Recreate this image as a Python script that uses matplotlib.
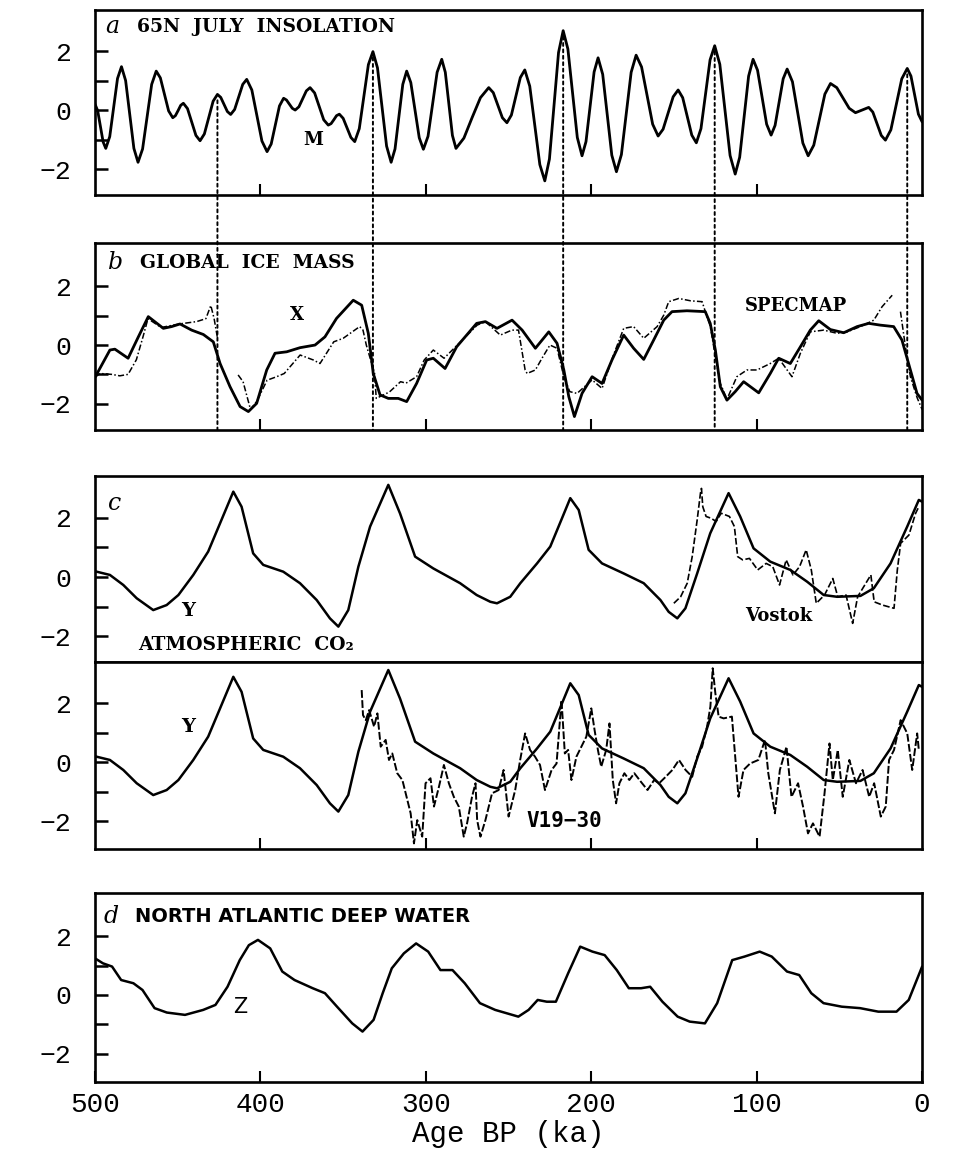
import numpy as np
from matplotlib import pyplot as plt
from matplotlib.patches import ConnectionPatch

# a: 65N July insolation (normalised)
ins_age = [500, 498.4, 496.75, 495.1, 493.5, 491.1, 488.75, 486.4, 484, 481.5, 479, 476.5,
           474, 471.25, 468.5, 465.75, 463, 460.5, 458, 455.5, 453, 451.4, 449.8, 448.2,
           446.6, 444.1, 441.55, 439, 436.5, 433.9, 431.25, 428.6, 426, 424, 422, 420,
           418, 415.6, 413.15, 410.7, 408.3, 405.2, 402.15, 399.1, 396, 393.5, 391, 388.5,
           386, 384.25, 382.5, 380.75, 379, 376.75, 374.5, 372.25, 370, 367.25, 364.5, 361.75,
           359, 357.3, 355.65, 354, 352.3, 350, 347.65, 345.3, 343, 340.25, 337.5, 334.75,
           332, 329.25, 326.5, 323.75, 321, 318.65, 316.3, 313.95, 311.6, 309.1, 306.55, 304,
           301.5, 298.7, 295.95, 293.2, 290.4, 288.25, 286.1, 283.95, 281.8, 277, 272, 267,
           262, 259.25, 256.5, 253.75, 251, 248.3, 245.6, 242.9, 240.2, 237.2, 234.15, 231.1,
           228.1, 225.3, 222.55, 219.8, 217, 214.15, 211.3, 208.45, 205.6, 203.2, 200.75, 198.3,
           195.9, 193.1, 190.35, 187.6, 184.8, 181.8, 178.85, 175.9, 172.9, 169.6, 166.25, 162.9,
           159.6, 156.6, 153.55, 150.5, 147.5, 144.75, 142, 139.25, 136.5, 133.7, 130.95, 128.2,
           125.4, 122.3, 119.2, 116.1, 113, 110.3, 107.6, 104.9, 102.2, 99.5, 96.75, 94,
           91.3, 88.9, 86.45, 84, 81.6, 78.4, 75.25, 72.1, 68.9, 65.5, 62.15, 58.8,
           55.4, 51.6, 47.85, 44.1, 40.3, 36.3, 32.3, 29.8, 27.25, 24.7, 22.2, 18.9,
           15.6, 12.3, 9, 6.75, 4.5, 2.25, 0]
ins_val = [0.2, -0.02, -0.55, -1.08, -1.3, -0.9, 0.09, 1.07, 1.47, 1.0, -0.15, -1.3,
           -1.77, -1.32, -0.23, 0.87, 1.32, 1.09, 0.53, -0.03, -0.26, -0.19, -0.02, 0.16,
           0.23, 0.05, -0.41, -0.86, -1.04, -0.81, -0.26, 0.3, 0.53, 0.43, 0.19, -0.05,
           -0.15, 0.02, 0.45, 0.87, 1.04, 0.68, -0.19, -1.05, -1.41, -1.15, -0.51, 0.14,
           0.4, 0.34, 0.2, 0.06, 0.0, 0.11, 0.38, 0.65, 0.76, 0.58, 0.13, -0.33,
           -0.51, -0.46, -0.33, -0.19, -0.14, -0.28, -0.61, -0.93, -1.07, -0.63, 0.46, 1.54,
           1.98, 1.43, 0.11, -1.22, -1.77, -1.32, -0.23, 0.87, 1.32, 0.93, 0.0, -0.94,
           -1.33, -0.89, 0.2, 1.28, 1.72, 1.28, 0.21, -0.86, -1.3, -0.95, -0.25, 0.42,
           0.76, 0.59, 0.17, -0.26, -0.43, -0.17, 0.47, 1.1, 1.36, 0.81, -0.52, -1.85,
           -2.4, -1.66, 0.15, 1.95, 2.69, 2.07, 0.57, -0.93, -1.55, -1.07, 0.11, 1.29,
           1.77, 1.21, -0.16, -1.53, -2.09, -1.51, -0.12, 1.28, 1.86, 1.46, 0.49, -0.48,
           -0.88, -0.65, -0.1, 0.45, 0.68, 0.42, -0.22, -0.85, -1.11, -0.63, 0.54, 1.7,
           2.18, 1.55, 0.0, -1.54, -2.17, -1.6, -0.23, 1.15, 1.72, 1.35, 0.44, -0.48,
           -0.85, -0.52, 0.27, 1.06, 1.39, 0.96, -0.08, -1.12, -1.55, -1.19, -0.33, 0.54,
           0.9, 0.76, 0.41, 0.06, -0.09, 0.0, 0.09, -0.07, -0.47, -0.86, -1.02, -0.67,
           0.2, 1.06, 1.41, 1.15, 0.5, -0.14, -0.4]

# insolation peaks tied to the ice terminations
peak_ages = [426, 332, 217, 125.4, 9]

# b: global ice mass, model X (solid) and SPECMAP (dash-dot)
ice_age = [500, 491, 488, 480, 473.8, 467.8, 458.7, 453.7, 448.6, 441.6, 434.5, 428.5,
           424.4, 418.4, 412.3, 407.3, 402.3, 396.2, 391.2, 384.1, 376.1, 367, 361, 354,
           343.9, 338.8, 334.8, 331.8, 327.7, 322.7, 316.7, 311.6, 305.6, 299.5, 295.5, 288.4,
           281.4, 269.3, 264, 257, 247.9, 241.8, 233.8, 225.7, 220.7, 216.6, 213.6, 210.2,
           205.6, 199.5, 193.5, 187.5, 180.4, 174.4, 168.3, 162.3, 156.2, 151.2, 142.2, 131.1,
           128.1, 125, 122, 118, 113, 107.9, 98.8, 91.8, 86.7, 79.7, 73.6, 67.6,
           62.5, 55.5, 47.4, 39.3, 32.3, 25.3, 17.2, 12.2, 7.1, 3.1, 0]
ice_val = [-1.1, -0.17, -0.14, -0.45, 0.28, 0.97, 0.57, 0.63, 0.72, 0.51, 0.36, 0.11,
           -0.63, -1.42, -2.1, -2.27, -1.99, -0.85, -0.28, -0.23, -0.09, 0.0, 0.28, 0.91,
           1.53, 1.36, 0.4, -0.97, -1.7, -1.82, -1.82, -1.93, -1.31, -0.51, -0.45, -0.8,
           -0.06, 0.74, 0.8, 0.57, 0.85, 0.51, -0.11, 0.45, 0.06, -0.85, -1.76, -2.44,
           -1.65, -1.08, -1.31, -0.51, 0.34, -0.11, -0.49, 0.17, 0.85, 1.14, 1.17, 1.14,
           0.74, -0.17, -1.42, -1.88, -1.59, -1.25, -1.63, -0.97, -0.45, -0.63, -0.06, 0.51,
           0.83, 0.53, 0.42, 0.63, 0.74, 0.68, 0.63, 0.17, -0.85, -1.65, -1.88]

spec_age = [500, 497, 490, 485, 480, 475, 471, 468, 460, 449, 438.6, 433, 430, 428, 426,
            np.nan, 413.5, 410.5, 406, 402, 396, 390.2, 385.6, 376, 368, 364, 355.7, 350,
            340, 338, 336, 331, 330, 322, 315.3, 312, 305.6, 301, 295.5, 289, 281, 269,
            264, 255, 248, 244, 240, 238.8, 233.8, 229.8, 225, 220.7, 216.6, 213, 208.6,
            199.5, 193.5, 187, 180.4, 174.4, 168.3, 160.2, 156.2, 153.2, 147.1, 140, 133,
            130.1, 128, 125, 122, 118, 112, 105.9, 99.8, 91.8, 86.7, 78.7, 73.6, 67.6,
            59.5, 51.4, 45.4, 37.3, 29.2, 24.2, 18.1, np.nan, 13.1, 10.1, 7.1, 3, 0]
spec_val = [-1.1, -0.97, -1.0, -1.05, -1.0, -0.5, 0.28, 0.9, 0.6, 0.72, 0.8, 0.9, 1.35, 0.9, 0.25,
            np.nan, -1.02, -1.25, -2.2, -1.9, -1.2, -1.08, -0.97, -0.34, -0.51, -0.63, 0.11, 0.23,
            0.63, 0.51, 0.0, -0.97, -1.82, -1.6, -1.25, -1.3, -1.08, -0.51, -0.17, -0.45, 0.0, 0.68,
            0.8, 0.34, 0.51, 0.51, -0.85, -0.97, -0.85, -0.45, 0.0, -0.11, -1.08, -1.59, -1.65,
            -1.19, -1.48, -0.4, 0.57, 0.63, 0.23, 0.63, 1.02, 1.48, 1.59, 1.51, 1.48,
            0.97, 0.63, -0.4, -1.31, -1.85, -1.08, -0.85, -0.85, -0.63, -0.45, -1.08, -0.28, 0.45,
            0.51, 0.4, 0.45, 0.63, 0.85, 1.31, 1.7, np.nan, 1.14, -0.06, -1.08, -1.8, -2.2]

# c: atmospheric CO2, model Y (solid), Vostok and V19-30 (dashed)
co2_age = [500, 499, 491, 482.9, 474.8, 464.8, 456.7, 449.6, 440.6, 431.6, 424.4, 416.4,
           411.4, 404.4, 398.3, 386.2, 376.1, 366, 358, 352.9, 346.9, 340.8, 333.7, 322.7,
           315.6, 306.5, 295.5, 279.3, 269.3, 261, 257, 249, 242.9, 232.8, 224.8, 217.7,
           212.7, 207.6, 201.6, 193.5, 180.4, 168.3, 158.2, 153.2, 148, 143.1, 136, 128.1,
           117, 110, 101.9, 91.8, 79.7, 69.5, 59.5, 51.4, 37.3, 29.2, 19.1, 9, 2, 0]
co2_val = [0.2, 0.18, 0.07, -0.27, -0.72, -1.12, -0.95, -0.61, 0.07, 0.86, 1.82, 2.89,
           2.38, 0.8, 0.41, 0.18, -0.21, -0.78, -1.4, -1.68, -1.12, 0.35, 1.71, 3.12,
           2.15, 0.69, 0.29, -0.21, -0.61, -0.84, -0.89, -0.67, -0.21, 0.46, 1.03, 1.99,
           2.67, 2.27, 0.92, 0.46, 0.12, -0.21, -0.78, -1.18, -1.4, -1.06, 0.12, 1.48,
           2.84, 2.05, 0.97, 0.52, 0.24, -0.16, -0.61, -0.67, -0.64, -0.38, 0.46, 1.71, 2.61, 2.55]

vos_age = [150.1, 146, 142, 139, 136, 134, 133.4, 132.6, 130.6, 127.6, 124.5, 121.5, 116.5,
           113.5, 111.5, 108.5, 104.4, 99.4, 94.3, 90.3, 86.2, 82.2, 78.1, 74.1, 70.1, 67,
           64, 59, 54, 51, 46, 42, 39, 31, 29, 24, 17, 15, 13, 8, 4, 2]
vos_val = [-0.89, -0.67, -0.21, 0.69, 1.93, 2.84, 3.0, 2.38, 2.05, 1.99, 1.88, 2.16, 2.05,
           1.71, 0.69, 0.58, 0.63, 0.24, 0.46, 0.35, -0.27, 0.58, 0.07, 0.35, 0.92, 0.24,
           -0.89, -0.61, -0.05, -0.67, -0.61, -1.57, -0.67, 0.07, -0.84, -0.95, -1.06, 0.24,
           1.14, 1.42, 2.15, 2.38]

v19_age = [338.8, 338, 336.3, 334.3, 331.3, 329.3, 327.3, 324.3, 322.3, 320.3, 317.3, 314.2,
           312.2, 309.2, 307.2, 305.2, 302.2, 300.2, 297.2, 295.1, 292.1, 289.1, 286.1, 283.1,
           280.1, 277.1, 275.1, 272.1, 270, 269, 267, 264, 260, 256, 253, 250,
           246, 243, 240, 237, 234, 231, 228, 224, 221, 218, 216, 214,
           212, 209, 206, 203, 200, 198, 196, 194, 191, 189, 187, 185,
           183, 180, 177, 174, 170, 166, 162, 159, 155, 151, 147, 143,
           139, 136, 133, 130, 128, 126.6, 125, 123, 120, 115, 113, 111,
           108, 104, 99, 95, 93, 89, 86, 82, 79, 75, 72, 69,
           66, 62, 59, 56, 54, 51, 48, 44, 40, 36, 32, 29,
           25, 22, 20, 17, 13, 9, 6, 3, 2]
v19_val = [2.44, 1.59, 1.42, 1.76, 1.2, 1.65, 0.52, 0.75, 0.07, 0.29, -0.38, -0.61,
           -1.06, -1.74, -2.76, -1.97, -2.53, -0.72, -0.55, -1.51, -0.84, -0.1, -0.72, -1.18,
           -1.51, -2.53, -2.08, -1.18, -0.72, -1.97, -2.53, -1.97, -1.06, -0.95, -0.27, -1.85,
           -0.95, 0.07, 0.97, 0.41, 0.18, -0.1, -0.95, -0.27, -0.05, 2.1, 0.29, 0.41,
           -0.61, 0.18, 0.52, 0.86, 1.82, 1.08, 0.41, -0.16, 0.41, 1.31, -0.61, -1.4,
           -0.72, -0.38, -0.61, -0.38, -0.67, -0.95, -0.61, -0.72, -0.5, -0.27, 0.07, -0.27,
           -0.5, 0.18, 0.52, 1.2, 1.88, 3.18, 2.33, 1.54, 1.48, 1.54, 0.18, -1.18,
           -0.27, -0.05, 0.07, 0.75, -0.38, -1.74, -0.27, 0.52, -1.18, -0.72, -1.51, -2.42,
           -2.08, -2.53, -1.06, 0.63, -0.61, 0.41, -1.18, 0.07, -0.72, -0.27, -1.18, -0.72,
           -1.85, -1.51, 0.07, 0.41, 1.42, 0.97, -0.27, 0.97, 0.41]

# d: North Atlantic Deep Water, model Z
nadw_age = [500, 495.2, 489.7, 484.2, 476.8, 471.3, 464, 456.6, 445.6, 434.6, 427.2, 419.9,
            412.5, 407, 401.5, 394.1, 386.8, 379.4, 368.4, 361, 353.7, 344.5, 338.3, 331.6,
            326.1, 320.6, 313.3, 305.9, 298.6, 291.2, 283.9, 276.5, 267.3, 258.1, 250.8, 244.1,
            237.9, 232.4, 226.9, 221.4, 214, 206.7, 199.3, 191.9, 184.6, 177.3, 169.9, 164.4,
            157, 147.8, 140.5, 131.3, 123.9, 114.8, 107.4, 98.2, 90.9, 81.7, 74.3, 67,
            59.6, 48.6, 37.5, 26.5, 15.5, 8.1, 0]
nadw_val = [1.25, 1.08, 0.97, 0.51, 0.4, 0.17, -0.45, -0.6, -0.68, -0.51, -0.34, 0.28,
            1.19, 1.7, 1.88, 1.59, 0.8, 0.51, 0.23, 0.06, -0.4, -0.97, -1.25, -0.85,
            0.06, 0.91, 1.42, 1.76, 1.48, 0.85, 0.85, 0.4, -0.28, -0.51, -0.63, -0.74,
            -0.51, -0.17, -0.23, -0.23, 0.74, 1.65, 1.48, 1.36, 0.85, 0.23, 0.23, 0.28,
            -0.23, -0.74, -0.91, -0.97, -0.28, 1.19, 1.31, 1.48, 1.31, 0.8, 0.68, 0.06,
            -0.28, -0.4, -0.45, -0.57, -0.57, -0.17, 0.97]

SERIF = "DejaVu Serif"
MONO = "Liberation Mono"

plt.rcParams["font.family"] = ["DejaVu Sans"]

fig = plt.figure(figsize=(9.54, 11.52), dpi=100)
L, W = 0.0996, 0.867
ax_a = fig.add_axes([L, 0.8307, W, 0.1606])
ax_b = fig.add_axes([L, 0.6267, W, 0.1623])
ax_c1 = fig.add_axes([L, 0.4253, W, 0.1615])
ax_c2 = fig.add_axes([L, 0.2630, W, 0.1623])
ax_d = fig.add_axes([L, 0.0608, W, 0.1640])
axes = [ax_a, ax_b, ax_c1, ax_c2, ax_d]
ylims = [(-2.88, 3.39), (-2.9, 3.48), (-2.88, 3.42), (-2.95, 3.39), (-2.97, 3.48)]

for ax, yl in zip(axes, ylims):
    ax.set_xlim(500, 0)
    ax.set_ylim(*yl)
    for s in ax.spines.values():
        s.set_linewidth(1.9)
    ax.set_yticks([-2, -1, 0, 1, 2])
    ax.set_yticklabels(["\u22122", "", "0", "", "2"], family=MONO, fontsize=19)
    ax.tick_params(axis="y", direction="in", length=9, width=1.8, pad=17)
    ax.set_xticks([400, 300, 200, 100])
    ax.tick_params(axis="x", direction="in", length=8, width=1.5, labelbottom=False)

ax_c1.tick_params(axis="x", length=0)

ax_d.set_xticks([500, 400, 300, 200, 100, 0])
ax_d.tick_params(axis="x", labelbottom=True, pad=7)
ax_d.set_xticklabels(["500", "400", "300", "200", "100", "0"], family=MONO, fontsize=20)
ax_d.set_xlabel("Age BP (ka)", family=MONO, fontsize=21, labelpad=2)

# curves
solid = dict(color="black", solid_joinstyle="round", solid_capstyle="round")
ax_a.plot(ins_age, ins_val, lw=2.0, **solid)
ax_b.plot(spec_age, spec_val, color="black", lw=1.1, ls=(0, (4, 1.5, 1, 1.5)))
ax_b.plot(ice_age, ice_val, lw=2.0, **solid)
ax_c1.plot(co2_age, co2_val, lw=1.8, **solid)
ax_c1.plot(vos_age, vos_val, color="black", lw=1.2, ls=(0, (4, 1.5)))
ax_c2.plot(co2_age, co2_val, lw=1.8, **solid)
ax_c2.plot(v19_age, v19_val, color="black", lw=1.4, ls=(0, (4, 1.2)))
ax_d.plot(nadw_age, nadw_val, lw=1.8, **solid)

# dotted lines from insolation peaks down through ice panel
ins_rev_age = np.array(ins_age)[::-1]
ins_rev_val = np.array(ins_val)[::-1]
for pa in peak_ages:
    pv = np.interp(pa, ins_rev_age, ins_rev_val)
    con = ConnectionPatch(xyA=(pa, pv - 0.2), coordsA=ax_a.transData,
                          xyB=(pa, ylims[1][0]), coordsB=ax_b.transData,
                          color="black", lw=1.4, ls=(0, (1.5, 1.8)))
    fig.add_artist(con)

# panel titles
lab_kw = dict(family=SERIF, style="italic", fontsize=17, va="center", ha="left")
tit_kw = dict(family=SERIF, weight="bold", fontsize=13.5, va="center", ha="left")
ax_a.text(494, 2.82, "a", **lab_kw)
ax_a.text(474.5, 2.82, "65N  JULY  INSOLATION", **tit_kw)
ax_b.text(492, 2.8, "b", **lab_kw)
ax_b.text(473, 2.8, "GLOBAL  ICE  MASS", **tit_kw)
ax_c1.text(492, 2.5, "c", **lab_kw)
ax_c1.text(474, -2.3, "ATMOSPHERIC  CO\u2082", **tit_kw)
ax_d.text(495, 2.69, "d", **lab_kw)
ax_d.text(476, 2.69, "NORTH ATLANTIC DEEP WATER", family="DejaVu Sans", weight="bold",
          fontsize=14, va="center", ha="left")

# series labels
ser_kw = dict(family=SERIF, weight="bold", fontsize=13, va="center")
ax_a.text(368, -1.02, "M", ha="center", **ser_kw)
ax_b.text(378, 1.02, "X", ha="center", **ser_kw)
ax_b.text(107, 1.33, "SPECMAP", ha="left", **ser_kw)
ax_c1.text(444, -1.15, "Y", ha="center", fontsize=14, family=SERIF, weight="bold", va="center")
ax_c1.text(107, -1.32, "Vostok", ha="left", **ser_kw)
ax_c2.text(444, 1.19, "Y", ha="center", fontsize=14, family=SERIF, weight="bold", va="center")
ax_c2.text(239, -2.0, "V19\u221230", ha="left", family="DejaVu Sans Mono", weight="bold",
           fontsize=15, va="center")
ax_d.text(412.5, -0.4, "Z", ha="center", va="center", family="DejaVu Sans", fontsize=15)

fig.savefig("out.png", dpi=100)
